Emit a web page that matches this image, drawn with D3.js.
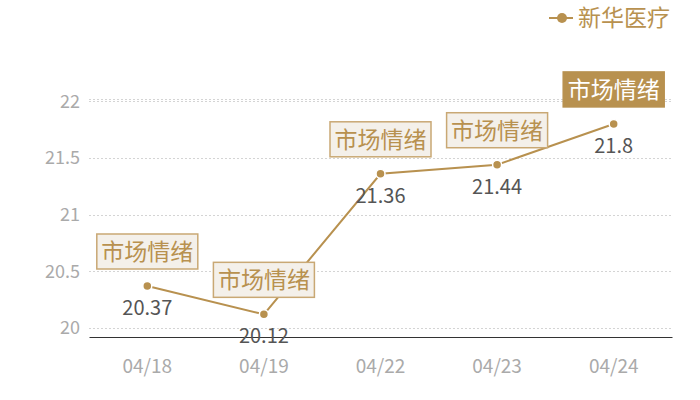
<!DOCTYPE html>
<html>
<head>
<meta charset="utf-8">
<script src="https://cdn.jsdelivr.net/npm/d3@7"></script>
<style>
  body { margin: 0; background: #fff; }
  text { font-family: "Noto Sans CJK SC", "Noto Sans", sans-serif; }
</style>
</head>
<body>
<div id="root"></div>
<script>
const dates = ["04/18", "04/19", "04/22", "04/23", "04/24"];
const values = [20.37, 20.12, 21.36, 21.44, 21.8];
const yTicks = [20, 20.5, 21, 21.5, 22];
const seriesName = "新华医疗";
const noteText = "市场情绪";

const width = 700;
const height = 400;
const margin = { top: 99, right: 28, bottom: 63, left: 89 };
const gold = "#b8914f";

var svg = d3.select("#root").append("svg")
  .attr("width", width)
  .attr("height", height);

var x = d3.scaleBand()
  .domain(dates)
  .range([margin.left, width - margin.right]);

var y = d3.scaleLinear()
  .domain([19.92, 22.02])
  .range([height - margin.bottom, margin.top]);

// grid
svg.append("g").selectAll("line")
  .data(yTicks)
  .enter().append("line")
  .attr("x1", margin.left)
  .attr("x2", width - margin.right)
  .attr("y1", d => Math.round(y(d)) + 0.5)
  .attr("y2", d => Math.round(y(d)) + 0.5)
  .attr("stroke", "#d4d4d4")
  .attr("stroke-dasharray", "2,2");

svg.append("line")
  .attr("x1", margin.left)
  .attr("x2", width - margin.right)
  .attr("y1", Math.round(y(22)) - 1.5)
  .attr("y2", Math.round(y(22)) - 1.5)
  .attr("stroke", "#d4d4d4")
  .attr("stroke-dasharray", "2,2");

// y axis labels
var yAxis = d3.axisLeft(y).tickValues(yTicks).tickSize(0).tickPadding(9).tickFormat(d3.format("~g"));
svg.append("g")
  .attr("transform", `translate(${margin.left},0)`)
  .call(yAxis)
  .call(g => g.select(".domain").remove())
  .call(g => g.selectAll("text").attr("fill", "#aaaaaa").attr("font-size", 18));

// x axis
var xAxis = d3.axisBottom(x).tickSize(0).tickPadding(23);
svg.append("g")
  .attr("transform", `translate(0,${height - margin.bottom})`)
  .call(xAxis)
  .call(g => g.select(".domain").attr("stroke", "#333"))
  .call(g => g.selectAll("text").attr("fill", "#aaaaaa").attr("font-size", 19));

var cx = d => x(d) + x.bandwidth() / 2;

// line
var line = d3.line()
  .x((d, i) => cx(dates[i]))
  .y(d => y(d));

svg.append("path")
  .datum(values)
  .attr("fill", "none")
  .attr("stroke", gold)
  .attr("stroke-width", 2)
  .attr("d", line);

svg.append("g").selectAll("circle")
  .data(values)
  .enter().append("circle")
  .attr("cx", (d, i) => cx(dates[i]))
  .attr("cy", d => y(d))
  .attr("r", 4.5)
  .attr("fill", gold)
  .attr("stroke", "#fff")
  .attr("stroke-width", 1.5);

// value labels
svg.append("g").selectAll("text")
  .data(values)
  .enter().append("text")
  .attr("x", (d, i) => cx(dates[i]))
  .attr("y", d => y(d) + 29)
  .attr("text-anchor", "middle")
  .attr("fill", "#555")
  .attr("font-size", 20)
  .text(d => d3.format("~g")(d));

// annotation boxes
var notes = svg.append("g").selectAll("g")
  .data(values)
  .enter().append("g")
  .attr("transform", (d, i) => `translate(${cx(dates[i])},${y(d) - 17})`);

notes.append("rect")
  .attr("x", -50.5)
  .attr("y", -35)
  .attr("width", 101)
  .attr("height", 35)
  .attr("fill", (d, i) => i === values.length - 1 ? gold : "#f4f0ea")
  .attr("stroke", (d, i) => i === values.length - 1 ? gold : "#c9a874")
  .attr("stroke-width", 1.5);

notes.append("text")
  .attr("x", 0)
  .attr("y", -9)
  .attr("text-anchor", "middle")
  .attr("font-size", 23)
  .attr("fill", (d, i) => i === values.length - 1 ? "#fff" : gold)
  .text(noteText);

// legend
var legend = svg.append("g").attr("transform", "translate(549,18)");
legend.append("line")
  .attr("x1", 0).attr("x2", 24)
  .attr("stroke", gold).attr("stroke-width", 2);
legend.append("circle")
  .attr("cx", 13).attr("r", 5)
  .attr("fill", gold);
legend.append("text")
  .attr("x", 29)
  .attr("y", 8)
  .attr("font-size", 23)
  .attr("fill", gold)
  .text(seriesName);
</script>
</body>
</html>
